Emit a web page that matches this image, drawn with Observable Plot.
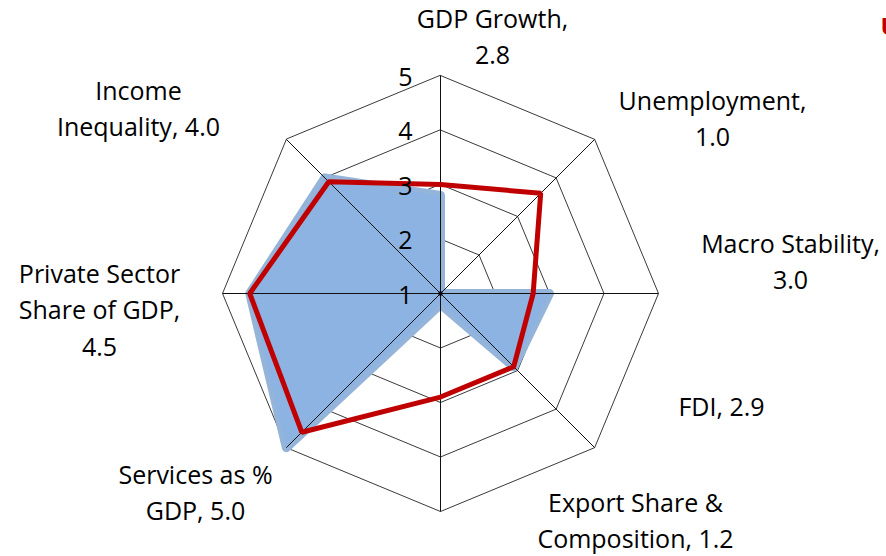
<!DOCTYPE html>
<html>
<head>
<meta charset="utf-8">
<script src="https://cdn.jsdelivr.net/npm/d3@7"></script>
<script src="https://cdn.jsdelivr.net/npm/@observablehq/plot@0.6"></script>
<style>
  html, body { margin: 0; padding: 0; background: #fff; }
  #chart svg { display: block; }
</style>
</head>
<body>
<div id="chart"></div>
<script>
// ---- data ----
const categories = ["GDP Growth", "Unemployment", "Macro Stability", "FDI",
  "Export Share & Composition", "Services as % GDP", "Private Sector Share of GDP", "Income Inequality"];
const categoryLabels = ["GDP Growth,\n2.8", "Unemployment,\n1.0", "Macro Stability,\n3.0", "FDI, 2.9",
  "Export Share &\nComposition, 1.2", "Services as %\nGDP, 5.0", "Private Sector\nShare of GDP,\n4.5", "Income\nInequality, 4.0"];
const blueValues = [2.8, 1.0, 3.0, 2.9, 1.2, 5.0, 4.5, 4.0];
const redValues  = [3.0, 3.6, 2.7, 2.9, 2.9, 4.6, 4.5, 3.9];
const tickValues = [1, 2, 3, 4, 5];

// ---- layout ----
const W = 886, H = 556;
const CX = 440, CY = 293;     // pixel centre
const UNIT = 54.5;            // pixels per value unit
const rMin = 1, rMax = 5;
// label block centres, pixel offsets from the centre
const labelOffsets = [[52, -259], [272, -177], [350, -34], [281, 111],
  [195, 225], [-245, 197], [-341, 14], [-302, -187]];

function polar(i, v) {
  const a = i * Math.PI / 4;
  const r = v - rMin;
  return {x: r * Math.sin(a), y: r * Math.cos(a)};
}

const rings = [];
tickValues.filter(t => t > rMin).forEach(t => {
  categories.forEach((c, i) => rings.push({ring: t, ...polar(i, t)}));
});
const spokes = categories.map((c, i) => ({cat: c, ...polar(i, rMax)}));
const blueData = categories.map((c, i) => ({cat: c, ...polar(i, blueValues[i])}));
const redData = categories.map((c, i) => ({cat: c, ...polar(i, redValues[i])}));
const tickData = tickValues.map(t => ({label: String(t), x: 0, y: t - rMin}));
const labelData = categories.map((c, i) => ({
  text: categoryLabels[i],
  x: labelOffsets[i][0] / UNIT,
  y: -labelOffsets[i][1] / UNIT
}));

const font = "'Open Sans', 'DejaVu Sans', sans-serif";

const chart = Plot.plot({
  width: W, height: H,
  margin: 0,
  x: {domain: [-CX / UNIT, (W - CX) / UNIT], range: [0, W], axis: null},
  y: {domain: [-(H - CY) / UNIT, CY / UNIT], range: [H, 0], axis: null},
  style: {fontFamily: font, background: "#fff"},
  marks: [
    Plot.line(rings, {x: "x", y: "y", z: "ring", curve: "linear-closed", stroke: "#222", strokeWidth: 0.9}),
    Plot.line(blueData, {x: "x", y: "y", curve: "linear-closed", fill: "#8db3e2",
      stroke: "#95b4da", strokeWidth: 9, strokeLinejoin: "round"}),
    Plot.line(blueData, {x: "x", y: "y", curve: "linear-closed", fill: "#8db3e2", stroke: "none"}),
    Plot.link(spokes, {x1: 0, y1: 0, x2: "x", y2: "y", stroke: "#111", strokeWidth: 1}),
    Plot.dot([{x: 0, y: 0}], {x: "x", y: "y", r: 2.2, fill: "#000"}),
    Plot.line(redData, {x: "x", y: "y", curve: "linear-closed", stroke: "#c00000",
      strokeWidth: 5, strokeLinejoin: "miter"}),
    Plot.text(tickData, {x: "x", y: "y", text: "label", dx: -28, dy: 2, textAnchor: "end",
      fontSize: 25, fill: "#000", fontFamily: font}),
    Plot.text(labelData, {x: "x", y: "y", text: "text", fontSize: 25, lineHeight: 1.46,
      lineAnchor: "middle", textAnchor: "middle", fill: "#000", fontFamily: font}),
    Plot.text([{t: "U", x: (W - CX - 6) / UNIT, y: (CY - 27) / UNIT}], {x: "x", y: "y", text: "t",
      textAnchor: "start", fontSize: 24, fontWeight: "bold", fill: "#c00000", fontFamily: font})
  ]
});
document.getElementById("chart").appendChild(chart);
</script>
</body>
</html>
